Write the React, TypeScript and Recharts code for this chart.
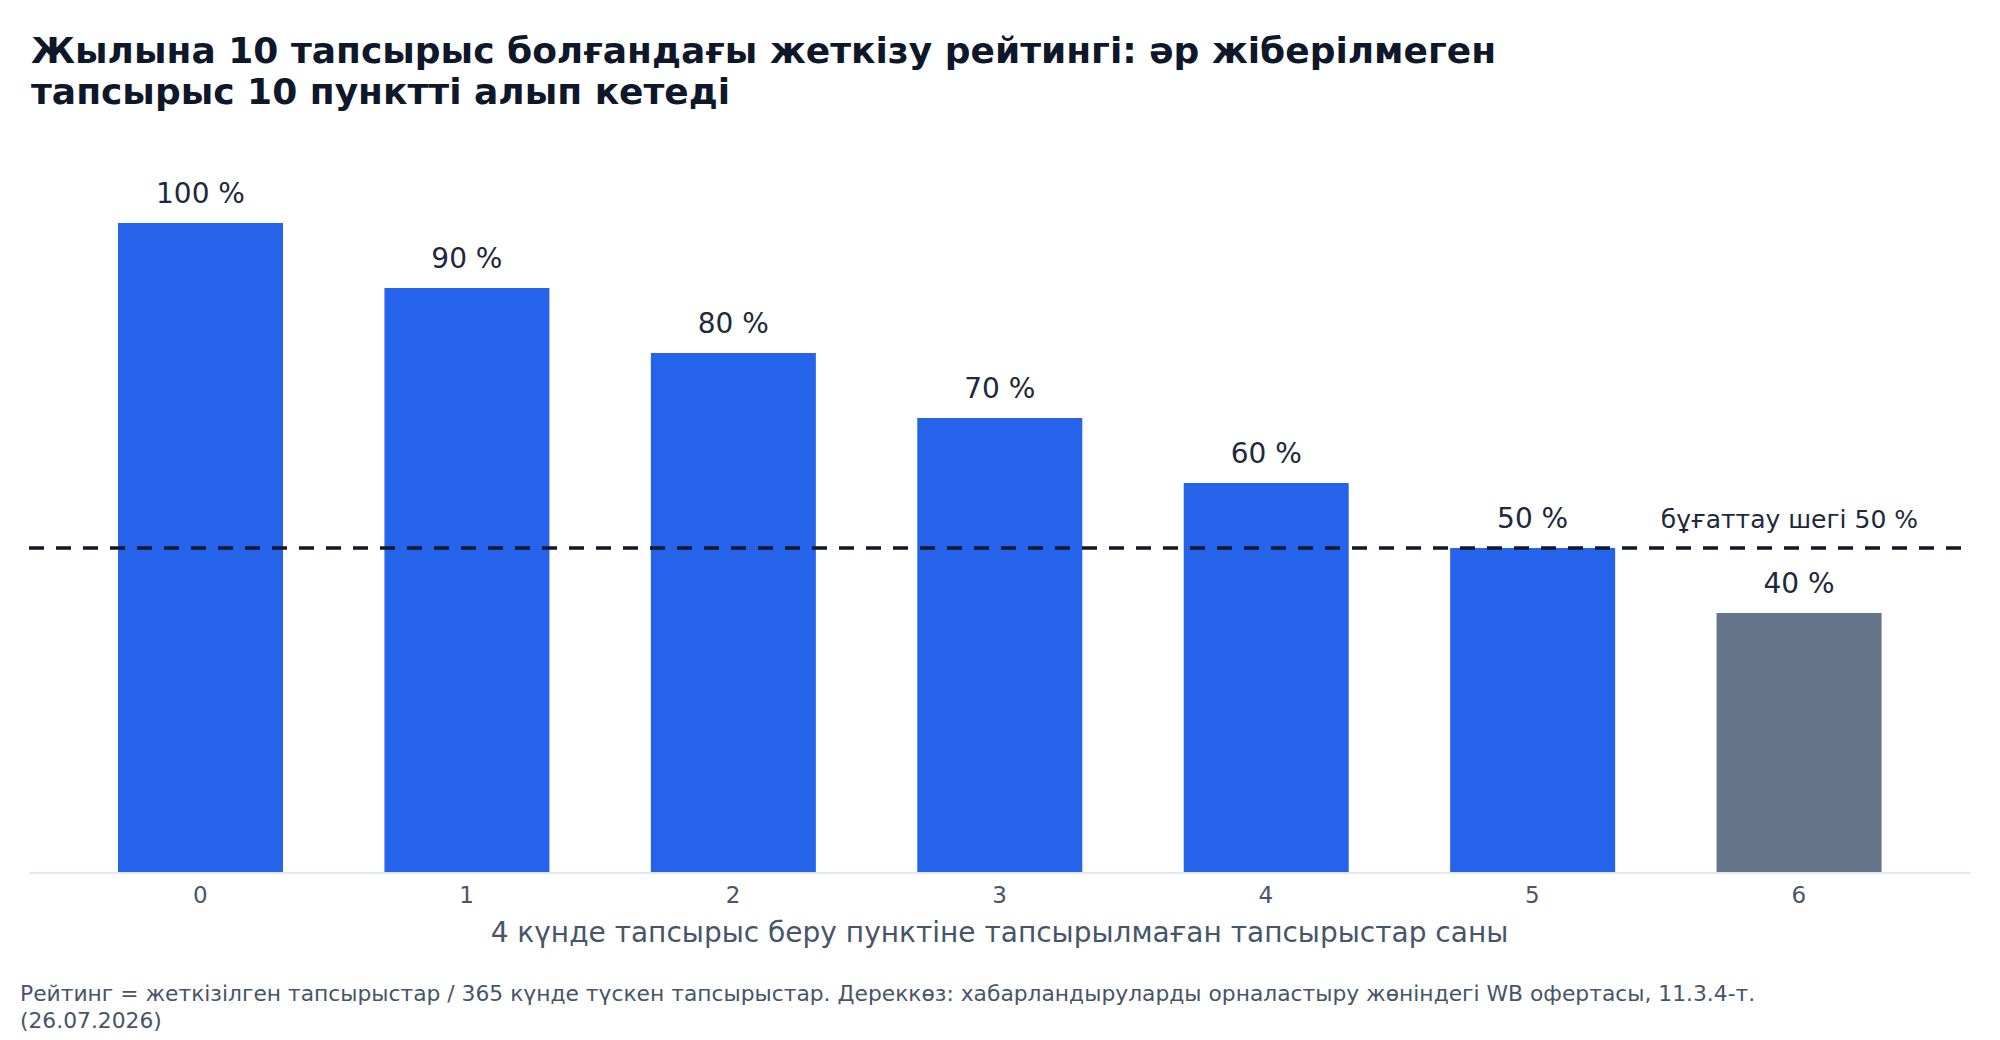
import { BarChart, Bar, XAxis, YAxis, Cell, LabelList, ReferenceLine, Label } from "recharts";

const missedOrders = ["0", "1", "2", "3", "4", "5", "6"];
const ratingPct = [100, 90, 80, 70, 60, 50, 40];
const blockThreshold = 50;

const titleLines = [
  "Жылына 10 тапсырыс болғандағы жеткізу рейтингі: әр жіберілмеген",
  "тапсырыс 10 пунктті алып кетеді",
];
const xAxisTitle = "4 күнде тапсырыс беру пунктіне тапсырылмаған тапсырыстар саны";
const thresholdLabel = "бұғаттау шегі 50 %";
const footnoteLines = [
  "Рейтинг = жеткізілген тапсырыстар / 365 күнде түскен тапсырыстар. Дереккөз: хабарландыруларды орналастыру жөніндегі WB офертасы, 11.3.4-т.",
  "(26.07.2026)",
];

const FONT = "'DejaVu Sans', sans-serif";
const BLUE = "#2563eb";
const GRAY = "#64748b";

const chartData = missedOrders.map((m, i) => ({ missed: m, rating: ratingPct[i] }));

function ThresholdText(props: any) {
  const vb = props.viewBox || {};
  return (
    <text
      x={vb.x + vb.width - 52}
      y={vb.y - 20}
      textAnchor="end"
      fontSize={25}
      fontFamily={FONT}
      fill="#1e293b"
    >
      {thresholdLabel}
    </text>
  );
}

export default function App() {
  return (
    <div
      style={{
        position: "absolute",
        left: 0,
        top: 0,
        width: 2000,
        height: 1040,
        background: "#fff",
        fontFamily: FONT,
        overflow: "hidden",
      }}
    >
      <div
        style={{
          position: "absolute",
          left: 31,
          top: 30,
          fontSize: 36,
          lineHeight: "41px",
          fontWeight: "bold",
          color: "#0f172a",
          whiteSpace: "nowrap",
        }}
      >
        {titleLines[0]}
        <br />
        {titleLines[1]}
      </div>

      <div style={{ position: "absolute", left: 0, top: 0 }}>
        <BarChart
          width={2000}
          height={1040}
          data={chartData}
          margin={{ top: 158, right: 30, bottom: 77, left: 29 }}
        >
          <YAxis hide domain={[0, 110]} />
          <XAxis
            dataKey="missed"
            height={90}
            padding={{ left: 38, right: 38 }}
            axisLine={{ stroke: "#e2e8f0", strokeWidth: 2 }}
            tickLine={false}
            tickSize={6}
            tickMargin={8}
            tick={{ fill: "#475569", fontSize: 23, fontFamily: FONT }}
          >
            <Label
              value={xAxisTitle}
              position="insideBottom"
              offset={21}
              fill="#475569"
              fontSize={28}
              fontFamily={FONT}
            />
          </XAxis>
          <Bar dataKey="rating" barSize={165} isAnimationActive={false}>
            {chartData.map((d) => (
              <Cell key={d.missed} fill={d.rating < blockThreshold ? GRAY : BLUE} />
            ))}
            <LabelList
              dataKey="rating"
              position="top"
              offset={20}
              formatter={(v: any) => `${v} %`}
              fill="#1e293b"
              fontSize={28}
              fontFamily={FONT}
            />
          </Bar>
          <ReferenceLine
            y={blockThreshold}
            stroke="#0f172a"
            strokeWidth={3.5}
            strokeDasharray="15 12"
            label={<ThresholdText />}
          />
        </BarChart>
      </div>

      <div
        style={{
          position: "absolute",
          left: 20,
          top: 980,
          fontSize: 21.8,
          lineHeight: "27px",
          color: "#475569",
          whiteSpace: "nowrap",
        }}
      >
        {footnoteLines[0]}
        <br />
        {footnoteLines[1]}
      </div>
    </div>
  );
}
